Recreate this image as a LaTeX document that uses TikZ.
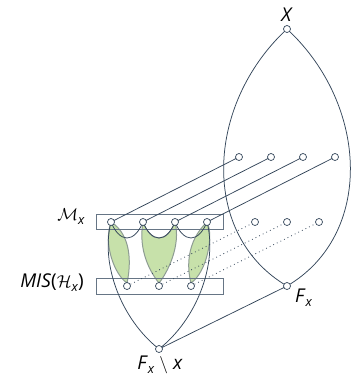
\documentclass[tikz,border=0pt]{standalone}
\usepackage{fontspec}
\setmainfont{Open Sans}
\definecolor{lc}{HTML}{34465A}
\definecolor{rc}{HTML}{667585}
\definecolor{gf}{HTML}{C7E1AA}
\definecolor{gb}{HTML}{8E9C93}
\newcommand{\sbxx}{\raisebox{-4pt}{\fontsize{13}{13}\selectfont\textit{x}}}
\begin{document}
\begin{tikzpicture}[x=1pt,y=-1pt,
  v/.style={circle,draw=lc,fill=white,inner sep=0pt,minimum size=7pt,line width=0.7pt},
  ln/.style={draw=lc,line width=0.75pt},
  dl/.style={draw=lc,line width=0.8pt,dash pattern=on 0.8pt off 3.2pt},
  leaf/.style={fill=gf,draw=gb,line width=1pt},
  box/.style={draw=rc,line width=1pt},
  lab/.style={font=\fontsize{19}{19}\selectfont,inner sep=0pt}]
\useasboundingbox (0,0) rectangle (351,378);
% coordinates
\coordinate (X) at (287,29);
\coordinate (F) at (287,286);
\coordinate (FX) at (159,349);
\coordinate (u1) at (239,157);\coordinate (u2) at (271,157);\coordinate (u3) at (303,157);\coordinate (u4) at (335,157);
\coordinate (d1) at (255,222);\coordinate (d2) at (287,222);\coordinate (d3) at (319,222);
\coordinate (m1) at (111,222);\coordinate (m2) at (143,222);\coordinate (m3) at (175,222);\coordinate (m4) at (207,222);
\coordinate (s1) at (127,286);\coordinate (s2) at (159,286);\coordinate (s3) at (191,286);
% green leaves
\path[leaf] (m1) .. controls (103,245) and (115,275) .. (127,283) .. controls (131,265) and (132,235) .. (m1);
\path[leaf] (m2) .. controls (138,250) and (150,272) .. (159,283) .. controls (168,272) and (181,245) .. (m3)
  .. controls (171,232) and (166,238) .. (159,238) .. controls (152,238) and (147,232) .. (m2);
\path[leaf] (m4) .. controls (214,235) and (207,272) .. (191,283) .. controls (187,268) and (186,242) .. (m4);
% boxes
\node[box,minimum width=127pt,minimum height=15pt,inner sep=0pt] (B1) at (159.5,221.5) {};
\node[box,minimum width=127pt,minimum height=16pt,inner sep=0pt] (B2) at (159.5,286) {};
% arcs between M_x nodes
\draw[ln] (m1) .. controls (115,232) and (121,238) .. (127,238) .. controls (133,238) and (139,232) .. (m2);
\draw[ln] (m2) .. controls (147,232) and (153,238) .. (159,238) .. controls (165,238) and (171,232) .. (m3);
\draw[ln] (m3) .. controls (179,232) and (185,238) .. (191,238) .. controls (197,238) and (203,232) .. (m4);
% big curves
\draw[ln] (X) .. controls (205,105) and (200,235) .. (F);
\draw[ln] (X) .. controls (369,105) and (374,235) .. (F);
\draw[ln] (m1) .. controls (100,265) and (122,320) .. (FX);
\draw[ln] (m4) .. controls (218,265) and (196,320) .. (FX);
\draw[ln] (F) -- (FX);
% long lines
\draw[ln] (u1) -- (m1);
\draw[ln] (u2) -- (m2);
\draw[ln] (u3) -- (m3);
\draw[ln] (u4) -- (m4);
\draw[dl] (s1) -- (d1);
\draw[dl] (s2) -- (d2);
\draw[dl] (s3) -- (d3);
% vertices
\foreach \p in {X,F,FX,u1,u2,u3,u4,d1,d2,d3,m1,m2,m3,m4,s1,s2,s3}
  \node[v] (n\p) at (\p) {};
% labels
\node[lab] (lX) at (287,14.5) {\textit{X}};
\node[lab,anchor=base west] (lF) at (295,302) {\textit{F}\sbxx};
\node[lab,anchor=base] (lFX) at (160,369) {\textit{F}\sbxx{} $\setminus$ \textit{x}};
\node[lab,anchor=base east] (lM) at (85,220) {$\mathcal{M}$\sbxx};
\node[lab,anchor=base east] (lMIS) at (84,287) {\textit{MIS}($\mathcal{H}$\sbxx)};
\end{tikzpicture}
\end{document}
